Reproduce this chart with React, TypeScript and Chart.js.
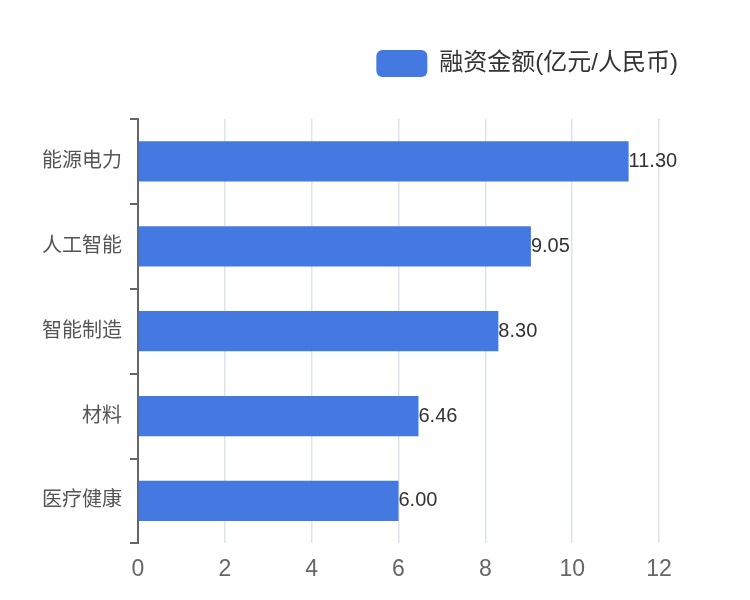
import React, { useEffect, useRef } from "react";
import { Chart, registerables } from "chart.js";
Chart.register(...registerables);

const categories = ["能源电力", "人工智能", "智能制造", "材料", "医疗健康"];
const amounts = [11.3, 9.05, 8.3, 6.46, 6.0];
const seriesName = "融资金额(亿元/人民币)";
const xTicks = [0, 2, 4, 6, 8, 10, 12];

const FONT = "'Liberation Sans', 'Noto Sans CJK SC', sans-serif";

const valueLabels = {
  id: "valueLabels",
  afterDatasetsDraw(chart: any) {
    const ctx = chart.ctx;
    const meta = chart.getDatasetMeta(0);
    ctx.save();
    ctx.font = `20px ${FONT}`;
    ctx.fillStyle = "#333";
    ctx.textAlign = "left";
    ctx.textBaseline = "middle";
    meta.data.forEach((bar: any, i: number) => {
      ctx.fillText(amounts[i].toFixed(2), bar.x, bar.y);
    });
    ctx.restore();
  },
};

const legendMargin = {
  id: "legendMargin",
  beforeInit(chart: any) {
    const legend = chart.legend;
    const origFit = legend.fit;
    legend.fit = function () {
      origFit.call(this);
      this.height += 32;
    };
  },
};

export default function App() {
  const ref = useRef<HTMLCanvasElement>(null);
  useEffect(() => {
    const chart = new Chart(ref.current!, {
      type: "bar",
      data: {
        labels: categories,
        datasets: [
          {
            label: seriesName,
            data: amounts,
            backgroundColor: "#4479e1",
            barPercentage: 0.5,
            categoryPercentage: 0.95,
          },
        ],
      },
      options: {
        indexAxis: "y",
        animation: false,
        responsive: false,
        layout: { padding: { top: 32, right: 54, left: 26, bottom: 4 } },
        plugins: {
          legend: {
            position: "top",
            align: "end",
            labels: {
              boxWidth: 51,
              boxHeight: 27,
              useBorderRadius: true,
              borderRadius: 6,
              font: { size: 24, family: FONT },
              color: "#333",
              padding: 10,
            },
          },
          tooltip: { enabled: false },
        },
        scales: {
          x: {
            min: 0,
            max: 12,
            afterBuildTicks: (axis: any) => {
              axis.ticks = xTicks.map((v) => ({ value: v }));
            },
            afterFit: (axis: any) => {
              axis.paddingRight = 83;
              axis.height -= 7;
            },
            border: { display: false },
            grid: { color: "#dde5ec", lineWidth: 1.5, drawTicks: false },
            ticks: { font: { size: 23, family: FONT }, color: "#666", padding: 12 },
          },
          y: {
            border: { display: true, color: "#666", width: 2 },
            grid: { drawOnChartArea: false, drawTicks: true, tickLength: 8, color: "#666", lineWidth: 2 },
            ticks: { font: { size: 20, family: FONT }, color: "#555", padding: 8 },
          },
        },
      },
      plugins: [valueLabels, legendMargin],
    });
    return () => chart.destroy();
  }, []);
  return <canvas ref={ref} width={734} height={584} />;
}
